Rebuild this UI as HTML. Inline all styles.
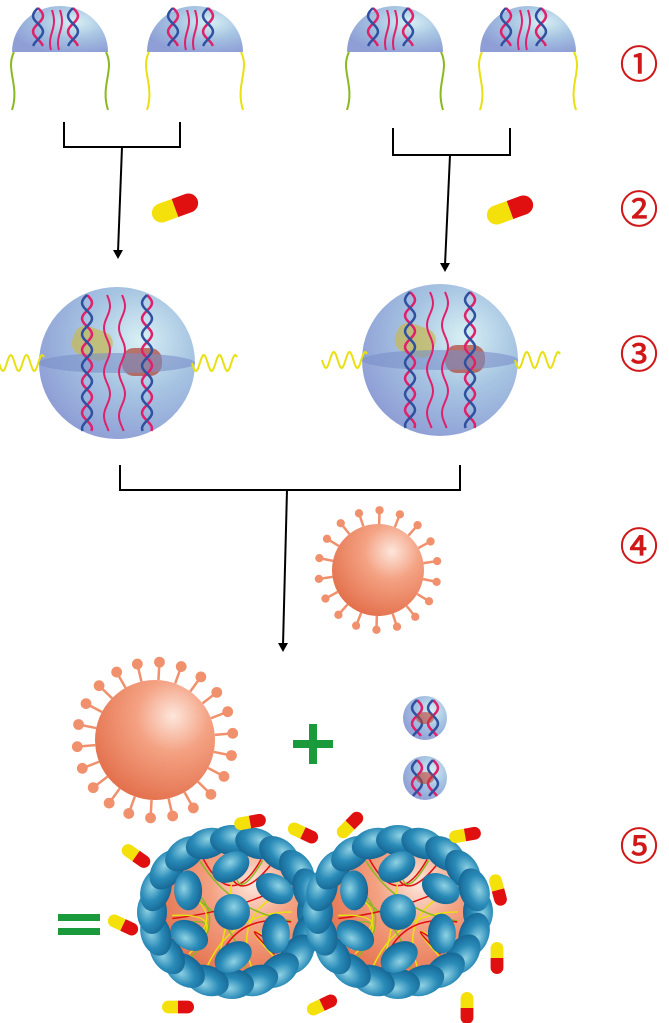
<!DOCTYPE html>
<html><head><meta charset="utf-8"><style>
html,body{margin:0;padding:0;background:#fff;width:669px;height:1023px;overflow:hidden}
svg{display:block}
.num{font-family:"Liberation Serif","Noto Sans CJK SC",serif;fill:#d01818;font-size:38px;stroke:#d01818;stroke-width:0.8}
</style></head><body>
<svg id="s" width="669" height="1023" viewBox="0 0 669 1023" xmlns="http://www.w3.org/2000/svg">
<defs>
<radialGradient id="bl" cx="0.65" cy="0.35" r="0.7"><stop offset="0" stop-color="#d8f0f4"/><stop offset="0.5" stop-color="#a6c4e2"/><stop offset="1" stop-color="#8f9fd6"/></radialGradient>
<radialGradient id="or" cx="0.65" cy="0.3" r="0.75"><stop offset="0" stop-color="#fde6dc"/><stop offset="0.4" stop-color="#f4a283"/><stop offset="1" stop-color="#e3704c"/></radialGradient>
<radialGradient id="bu" cx="0.55" cy="0.35" r="0.7"><stop offset="0" stop-color="#8fd2e4"/><stop offset="0.5" stop-color="#2a8bb8"/><stop offset="1" stop-color="#12608e"/></radialGradient>
</defs>
<g id="g"></g>
<text class="num" x="620" y="78">①</text>
<text class="num" x="620" y="223">②</text>
<text class="num" x="620" y="368">③</text>
<text class="num" x="620" y="560">④</text>
<text class="num" x="620" y="860">⑤</text>
<g stroke="#000" stroke-width="2" fill="none">
<path d="M64 122V147H180V122"/><path d="M122 147L118 252"/>
<path d="M393 128V155H510V128"/><path d="M450 155L445 265"/>
<path d="M120 465V490H460V465"/><path d="M287 490L283 645"/>
</g>
<g fill="#000"><path d="M113 250L123 250L118 259Z"/><path d="M440 263L450 263L445 272Z"/><path d="M278 643L288 643L283 652Z"/></g>
<g fill="#1a9a3a"><rect x="293" y="740" width="40" height="8"/><rect x="309" y="724" width="8" height="40"/>
<rect x="58" y="914" width="42" height="7"/><rect x="58" y="928" width="42" height="7"/></g>
</svg>
<script>
var g=document.getElementById('g'),h='';
function cap(x,y,a,s){s=s||1;h+='<g transform="translate('+x+' '+y+') rotate('+a+') scale('+s+')"><path d="M0,-8H-12A8,8 0 0 0 -12,8H0Z" fill="#f4e10c"/><path d="M0,-8H12A8,8 0 0 1 12,8H0Z" fill="#e01010"/></g>';}
function helix(x,y1,y2,c1,c2){var d1='M'+x+' '+y1,d2=d1;for(var y=y1;y<=y2;y+=2){var o=5*Math.sin((y-y1)/5);d1+=' L'+(x+o)+' '+y;d2+=' L'+(x-o)+' '+y;}
h+='<path d="'+d1+'" stroke="'+c1+'" stroke-width="2.5" fill="none"/><path d="'+d2+'" stroke="'+c2+'" stroke-width="2.5" fill="none"/>';}
function wave(x,y1,y2,c,a){var d='M'+x+' '+y1;for(var y=y1;y<=y2;y+=2)d+=' L'+(x+a*Math.sin((y-y1)/7))+' '+y;h+='<path d="'+d+'" stroke="'+c+'" stroke-width="2" fill="none"/>';}
function dome(cx,c){h+='<path d="M'+(cx-48)+' 52A48,46 0 0 1 '+(cx+48)+' 52Z" fill="url(#bl)"/>';
h+='<path d="M'+(cx-46)+' 52C'+(cx-55)+' 70,'+(cx-40)+' 85,'+(cx-48)+' 110" stroke="'+(c?'#8ab820':'#e8e010')+'" stroke-width="2" fill="none"/>';
h+='<path d="M'+(cx+46)+' 52C'+(cx+55)+' 70,'+(cx+40)+' 85,'+(cx+48)+' 110" stroke="'+(c?'#8ab820':'#e8e010')+'" stroke-width="2" fill="none"/>';
helix(cx-22,8,46,'#e0206a','#3050a0');helix(cx+13,8,46,'#e0206a','#3050a0');
wave(cx-8,10,50,'#e0206a',2);wave(cx,10,50,'#e0206a',2);}
dome(60,1);dome(195,0);dome(395,1);dome(528,0);
cap(175,208,-20,1.2);cap(510,210,-20,1.2);
function big(cx,cy){h+='<ellipse cx="'+cx+'" cy="'+cy+'" rx="78" ry="76" fill="url(#bl)"/>';
h+='<rect x="'+(cx-50)+'" y="'+(cy-25)+'" width="40" height="30" rx="12" fill="#c8b850" opacity=".7" transform="rotate(20 '+cx+' '+cy+')"/>';
h+='<rect x="'+(cx+5)+'" y="'+(cy-15)+'" width="40" height="28" rx="12" fill="#b04030" opacity=".7"/>';
h+='<ellipse cx="'+cx+'" cy="'+cy+'" rx="78" ry="10" fill="#7a90c8" opacity=".6"/>';
helix(cx-30,cy-68,cy+68,'#e0206a','#3050a0');helix(cx+30,cy-68,cy+68,'#e0206a','#3050a0');
wave(cx-10,cy-68,cy+68,'#e0206a',3);wave(cx+5,cy-68,cy+68,'#e0206a',3);
var d='';for(var i=0;i<=45;i++){d+=(i?' L':'M')+(cx-118+i)+' '+(cy+8*Math.sin(i/2.5));}h+='<path d="'+d+'" stroke="#e8e010" stroke-width="2" fill="none"/>';
d='';for(var i=0;i<=45;i++){d+=(i?' L':'M')+(cx+75+i)+' '+(cy+8*Math.sin(i/2.5));}h+='<path d="'+d+'" stroke="#e8e010" stroke-width="2" fill="none"/>';}
big(117,363);big(440,360);
function virus(cx,cy,r,n){for(var i=0;i<n;i++){var a=i*2*Math.PI/n+0.2,x1=cx+r*Math.cos(a),y1=cy+r*Math.sin(a),x2=cx+(r*1.3)*Math.cos(a),y2=cy+(r*1.3)*Math.sin(a);
h+='<line x1="'+x1+'" y1="'+y1+'" x2="'+x2+'" y2="'+y2+'" stroke="#f0906c" stroke-width="2.5"/><circle cx="'+x2+'" cy="'+y2+'" r="'+(r*0.09)+'" fill="#f0906c"/>';}
h+='<circle cx="'+cx+'" cy="'+cy+'" r="'+r+'" fill="url(#or)"/>';}
virus(378,570,46,18);virus(155,740,60,22);
function small(cx,cy){h+='<circle cx="'+cx+'" cy="'+cy+'" r="22" fill="url(#bl)"/>';helix(cx-8,cy-18,cy+18,'#e0206a','#3050a0');helix(cx+8,cy-18,cy+18,'#e0206a','#3050a0');h+='<ellipse cx="'+cx+'" cy="'+cy+'" rx="9" ry="6" fill="#c04030" opacity=".6"/>';}
small(425,718);small(425,778);
function cluster(cx,cy){h+='<circle cx="'+cx+'" cy="'+cy+'" r="70" fill="url(#or)"/>';
for(var k=0;k<16;k++){var a=k*2.3,b=k*1.7+2;h+='<path d="M'+(cx+60*Math.cos(a))+' '+(cy+60*Math.sin(a))+' Q'+cx+' '+cy+' '+(cx+60*Math.cos(b))+' '+(cy+60*Math.sin(b))+'" stroke="'+['#e8e010','#8ab820','#e01010'][k%3]+'" stroke-width="1.5" fill="none"/>';}
h+='<circle cx="'+cx+'" cy="'+cy+'" r="18" fill="url(#bu)"/>';
for(var i=0;i<20;i++){var a=i*2*Math.PI/20,x=cx+80*Math.cos(a),y=cy+72*Math.sin(a);h+='<ellipse cx="'+x+'" cy="'+y+'" rx="22" ry="15" fill="url(#bu)" transform="rotate('+(a*57.3+90)+' '+x+' '+y+')"/>';}
for(var i=0;i<6;i++){var a=i*2*Math.PI/6+0.5,x=cx+50*Math.cos(a),y=cy+45*Math.sin(a);h+='<ellipse cx="'+x+'" cy="'+y+'" rx="20" ry="14" fill="url(#bu)" transform="rotate('+(a*57.3+60)+' '+x+' '+y+')"/>';}}
cluster(232,912);cluster(398,912);
cap(250,822,-10,0.8);cap(303,833,25,0.8);cap(350,825,-45,0.8);cap(465,835,-10,0.8);cap(136,856,35,0.8);cap(123,925,25,0.8);cap(498,890,75,0.8);cap(497,958,90,0.8);cap(178,1007,0,0.8);cap(322,1005,-25,0.8);cap(467,1008,90,0.8);
g.innerHTML=h;
</script>
</body></html>
